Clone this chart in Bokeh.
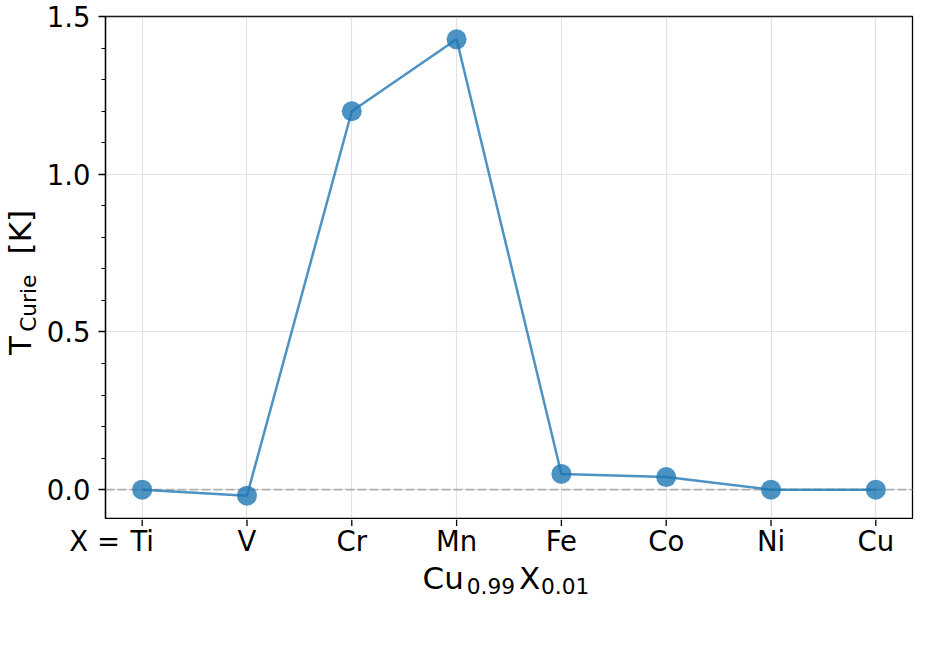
import math
from bokeh.plotting import figure
from bokeh.layouts import row, column
from bokeh.models import Range1d, FixedTicker, Label, ColumnDataSource, Span
from bokeh.embed import file_html
from bokeh.resources import INLINE

# ---- data ----
elements = ["Ti", "V", "Cr", "Mn", "Fe", "Co", "Ni", "Cu"]
t_curie = [0.0, -0.019, 1.20, 1.428, 0.05, 0.04, 0.0, 0.0]
y_major_ticks = [0.0, 0.5, 1.0, 1.5]
first_tick_prefix = "X = "

x_idx = list(range(len(elements)))

# matplotlib-like 5% margins
xpad = 0.05 * (x_idx[-1] - x_idx[0])
ymin, ymax = min(t_curie), max(t_curie)
ypad = 0.05 * (ymax - ymin)
x_range = Range1d(x_idx[0] - xpad, x_idx[-1] + xpad)
y_range = Range1d(ymin - ypad, ymax + ypad)

FONT = "DejaVu Sans"
BLUE = "#1f77b4"
TICK_PX, LAB_PX, SUB_PX = 27.5, 31, 21.7
FIX = 0.4   # empirical baseline correction (fraction of font size)

# ---- layout geometry (pixels) ----
YSTRIP_W = 43
MAIN_LEFT = 62
FRAME_W, FRAME_H = 807, 502
MAIN_TOP, MAIN_RIGHT, MAIN_BOTTOM = 16, 5, 1
MAIN_H = MAIN_TOP + FRAME_H + MAIN_BOTTOM
XSTRIP_H = 120
TOTAL_W = YSTRIP_W + MAIN_LEFT + FRAME_W + MAIN_RIGHT

p = figure(
    x_range=x_range, y_range=y_range,
    frame_width=FRAME_W, frame_height=FRAME_H,
    min_border_left=MAIN_LEFT, min_border_right=MAIN_RIGHT,
    min_border_top=MAIN_TOP, min_border_bottom=MAIN_BOTTOM,
    x_axis_location=None,
    output_backend="svg", toolbar_location=None,
)
p.background_fill_color = "white"
p.border_fill_color = "white"
p.outline_line_color = "black"
p.outline_line_width = 1.3
p.outline_line_alpha = 1.0

minor = [round(i * 0.1, 1) for i in range(-1, 16)]
minor = [m for m in minor if all(abs(m - t) > 1e-9 for t in y_major_ticks)]
p.yaxis.ticker = FixedTicker(ticks=y_major_ticks, minor_ticks=minor)
p.yaxis.major_label_overrides = {t: f"{t:.1f}" for t in y_major_ticks}
ax = p.yaxis[0]
ax.axis_line_color = "black"
ax.axis_line_width = 1.3
ax.major_tick_line_color = "black"
ax.major_tick_line_width = 1.3
ax.major_tick_out = 7
ax.major_tick_in = 0
ax.minor_tick_line_color = "black"
ax.minor_tick_line_width = 1
ax.minor_tick_out = 4
ax.minor_tick_in = 0
ax.major_label_text_font = FONT
ax.major_label_text_font_size = f"{TICK_PX}px"
ax.major_label_text_color = "black"
ax.major_label_standoff = 8
ax.axis_label = None

p.xgrid.ticker = FixedTicker(ticks=x_idx)
p.xgrid.grid_line_color = "#b0b0b0"
p.xgrid.grid_line_alpha = 0.35
p.xgrid.grid_line_width = 1.2
p.ygrid.grid_line_color = "#b0b0b0"
p.ygrid.grid_line_alpha = 0.35
p.ygrid.grid_line_width = 1.2

p.add_layout(Span(location=0, dimension="width", line_color="#b0b0b0",
                  line_width=1.8, line_dash="9 3", level="underlay"))

src = ColumnDataSource(dict(x=x_idx, y=t_curie, name=elements))
p.scatter("x", "y", source=src, size=20, fill_color=BLUE, line_color=BLUE,
          fill_alpha=0.8, line_alpha=0.0)
p.line("x", "y", source=src, line_color=BLUE, line_width=2.5, line_alpha=0.8)


def text_strip(width, height, xr):
    f = figure(width=width, height=height, x_range=xr, y_range=Range1d(height, 0),
               min_border=0, x_axis_location=None, y_axis_location=None,
               toolbar_location=None, output_backend="svg", title=None)
    f.outline_line_color = None
    f.grid.visible = False
    f.background_fill_color = "white"
    f.border_fill_color = "white"
    return f


def lab(fig, txt, x, y, px, dx=0, align="left", rotated=False):
    if rotated:
        dx = dx - FIX * px
        dy = 0
    else:
        dy = FIX * px
    fig.add_layout(Label(x=x, y=y, x_offset=dx, y_offset=dy, text=txt,
                         angle=math.pi / 2 if rotated else 0.0,
                         text_align=align, text_baseline="alphabetic",
                         text_font=FONT, text_font_size=f"{px}px", text_color="black"))


# ---- y-axis title strip: T_{Curie} [K] ----
ys = text_strip(YSTRIP_W, MAIN_H, Range1d(0, YSTRIP_W))
lab(ys, "T", 31.7, 350, LAB_PX, rotated=True)
lab(ys, "Curie", 36.7, 326, SUB_PX, rotated=True)
lab(ys, "[K]", 31.7, 246, LAB_PX, rotated=True)

# ---- x ticks, tick labels and x-axis title strip (same x mapping as main) ----
dpp = (x_range.end - x_range.start) / FRAME_W
xs_range = Range1d(x_range.start - (YSTRIP_W + MAIN_LEFT) * dpp,
                   x_range.end + MAIN_RIGHT * dpp)
xs = text_strip(TOTAL_W, XSTRIP_H, xs_range)
xs.segment(x0=x_idx, y0=[0] * len(x_idx), x1=x_idx, y1=[6.5] * len(x_idx),
           line_color="black", line_width=1.3)
TICK_BASE = 551.7 - MAIN_H
for i, e in zip(x_idx, elements):
    lab(xs, e, i, TICK_BASE, TICK_PX, align="center")
lab(xs, first_tick_prefix, x_idx[0], TICK_BASE, TICK_PX, dx=-13.5, align="right")

xc = (x_range.start + x_range.end) / 2
MAIN_BASE = 590 - MAIN_H
SUB_BASE = 594 - MAIN_H
lab(xs, "Cu", xc, MAIN_BASE, LAB_PX, dx=-86.5)
lab(xs, "0.99", xc, SUB_BASE, SUB_PX, dx=-42.3)
lab(xs, "X", xc, MAIN_BASE, LAB_PX, dx=9.9)
lab(xs, "0.01", xc, SUB_BASE, SUB_PX, dx=32.0)

layout = column(row(ys, p, spacing=0), xs, spacing=0)
open("out.html", "w").write(file_html(layout, INLINE))
